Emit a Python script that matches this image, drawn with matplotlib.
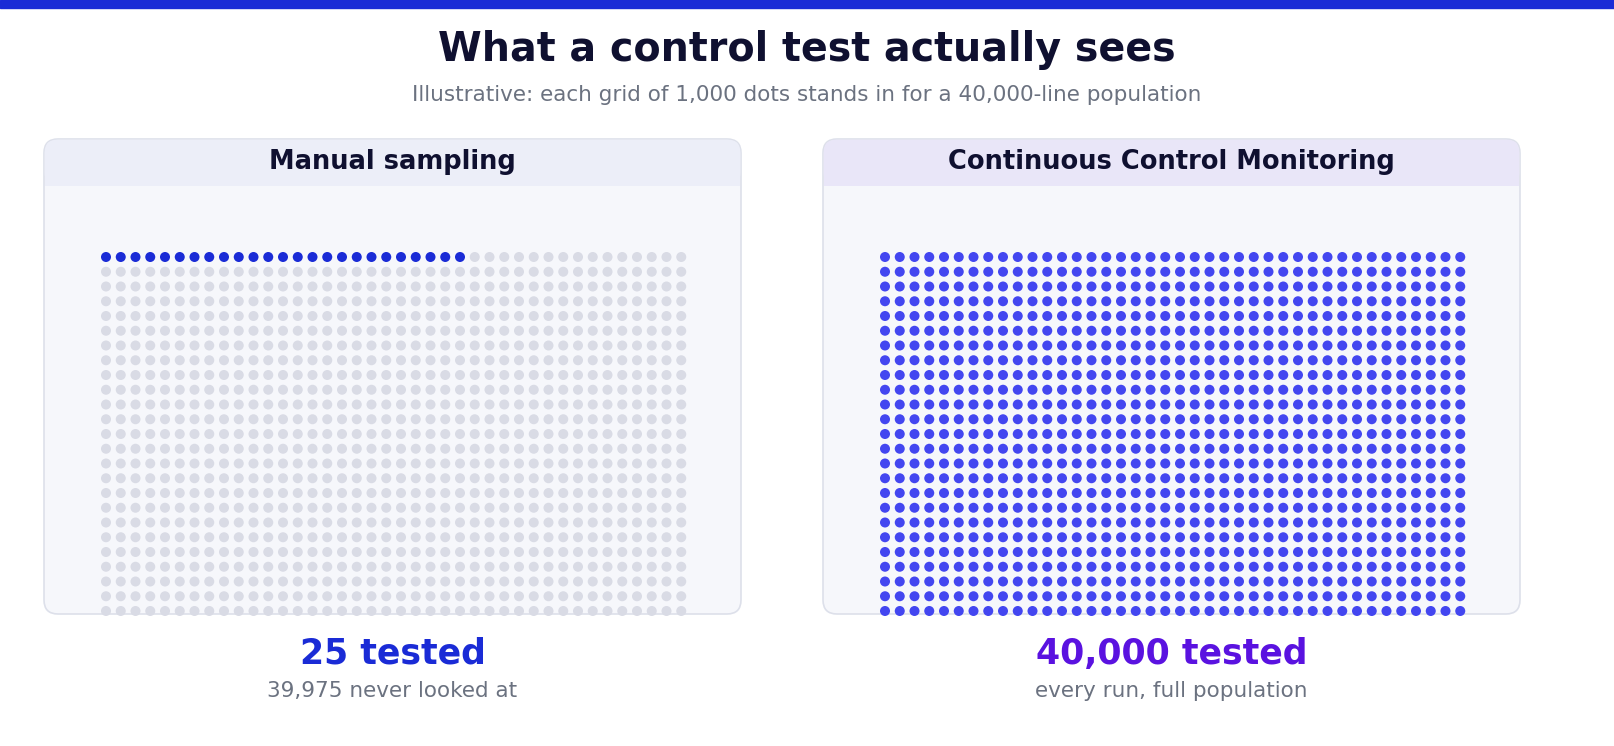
import numpy as np
import matplotlib.pyplot as plt
from matplotlib.patches import FancyBboxPatch, Rectangle

title = "What a control test actually sees"
subtitle = "Illustrative: each grid of 1,000 dots stands in for a 40,000-line population"
panel_titles = ["Manual sampling", "Continuous Control Monitoring"]
tested_dots = [25, 1000]          # dots lit out of 1,000
big_labels = ["25 tested", "40,000 tested"]
small_labels = ["39,975 never looked at", "every run, full population"]
n_cols, n_rows = 40, 25

header_colors = ["#eceef8", "#e9e6f8"]
lit_colors = ["#1a2bd6", "#4346f0"]
big_colors = ["#1a2bd6", "#5a12e0"]
off_color = "#d9dbe5"

W, H = 1614, 746
fig = plt.figure(figsize=(W / 100, H / 100), dpi=100)
ax = fig.add_axes([0, 0, 1, 1])
ax.set_xlim(0, W)
ax.set_ylim(H, 0)
ax.axis("off")

ax.add_patch(Rectangle((0, 0), W, 8, color="#1a2bd6"))
ax.text(W / 2, 50, title, ha="center", va="center", fontsize=28.5, fontweight="bold", color="#0f1030")
ax.text(W / 2, 95, subtitle, ha="center", va="center", fontsize=15.5, color="#6b7280")

panel_x = [44, 823]
pw, top, bottom = 697, 139, 614
for i in range(2):
    x0 = panel_x[i]
    ax.add_patch(FancyBboxPatch((x0, top), pw, bottom - top, boxstyle="round,pad=0,rounding_size=14",
                                fc="#f6f7fb", ec="#dde0ea", lw=1.2))
    # header band
    ax.add_patch(FancyBboxPatch((x0 + 0.6, top + 0.6), pw - 1.2, 46, boxstyle="round,pad=0,rounding_size=13",
                                fc=header_colors[i], ec="none"))
    ax.add_patch(Rectangle((x0 + 0.6, top + 25), pw - 1.2, 21.6, fc=header_colors[i], ec="none"))
    ax.text(x0 + pw / 2, 162, panel_titles[i], ha="center", va="center", fontsize=18.5,
            fontweight="bold", color="#0f1030")

    idx = np.arange(n_cols * n_rows)
    col = idx % n_cols
    row = idx // n_cols
    xs = x0 + 62 + col * 14.75
    ys = 257 + row * 14.75
    colors = np.where(idx < tested_dots[i], lit_colors[i], off_color)
    ax.scatter(xs, ys, s=52, c=colors, linewidths=0, zorder=3)

    ax.text(x0 + pw / 2, 654, big_labels[i], ha="center", va="center", fontsize=25,
            fontweight="bold", color=big_colors[i])
    ax.text(x0 + pw / 2, 691, small_labels[i], ha="center", va="center", fontsize=15.5, color="#6b7280")

fig.savefig("out.png", dpi=100)
